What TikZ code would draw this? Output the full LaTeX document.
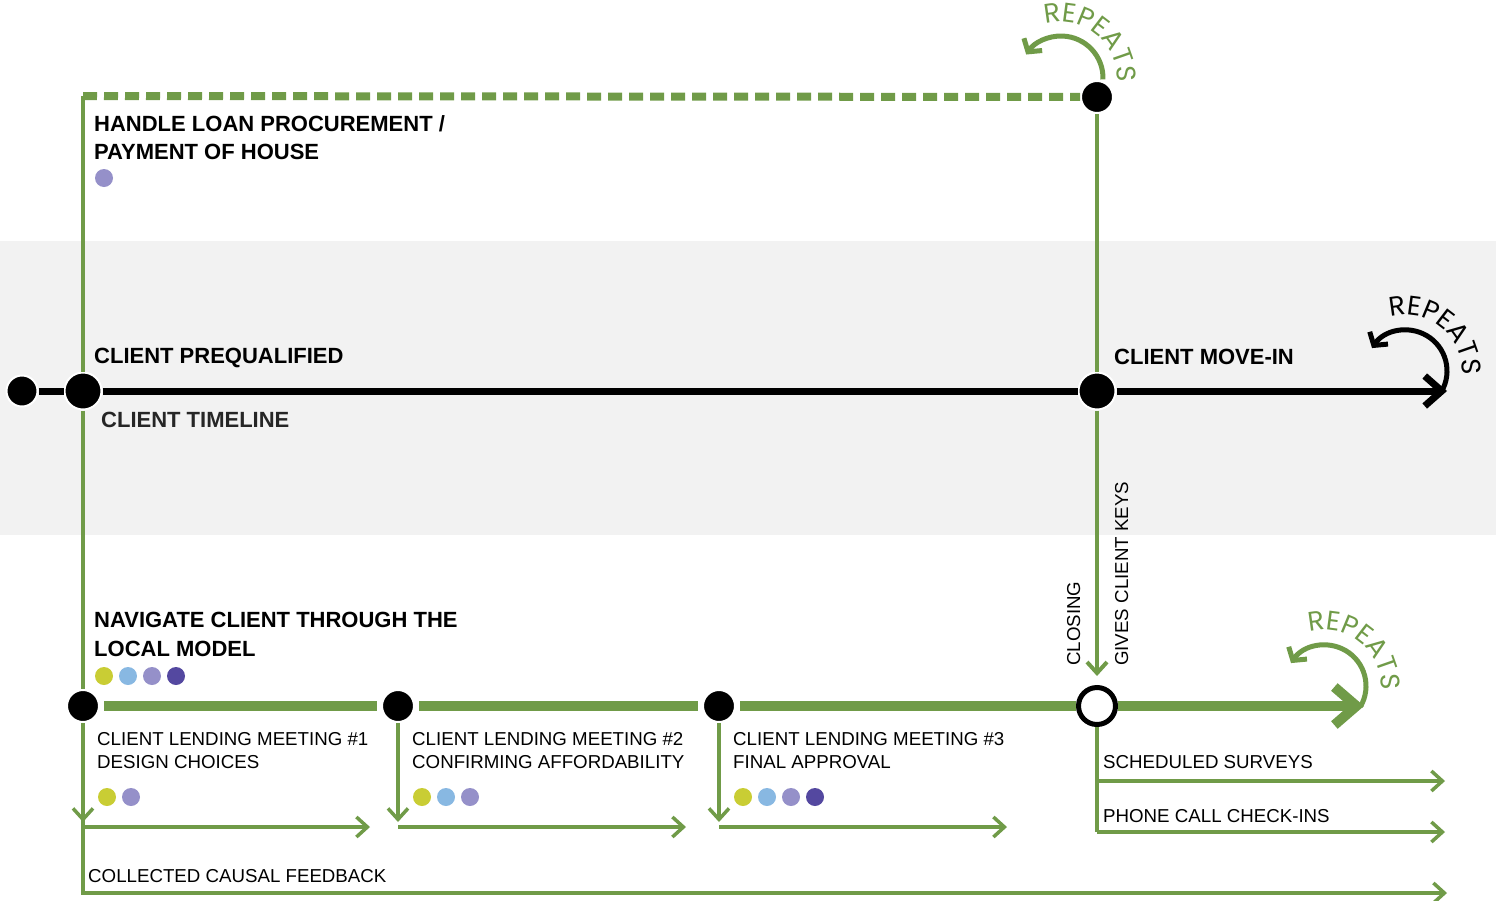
\documentclass[tikz,border=0pt]{standalone}
\usepackage{fontspec}
\setmainfont{Liberation Sans}
\newfontfamily\repfont{Poppins}
\usetikzlibrary{arrows.meta,decorations.text}
\definecolor{grn}{RGB}{112,155,72}
\definecolor{band}{RGB}{242,242,242}
\definecolor{cy}{RGB}{201,205,52}
\definecolor{cb}{RGB}{136,184,226}
\definecolor{cl}{RGB}{149,144,201}
\definecolor{cp}{RGB}{84,72,160}
\newcommand\repeatsarc[5]{% center, radius, start angle, end angle, colour
  \draw[#5, line width=5pt, -{Straight Barb[length=9pt,width=22pt]}] (#1) ++(#3:#2) arc[start angle=#3, end angle=#4, radius=#2];
  \path[decorate, decoration={text along path, text={|\repfont\fontsize{27}{27}\selectfont|REPEATS}, text align=center, text color=#5}] (#1) ++(114:56pt) arc[start angle=114, end angle=-12, radius=56pt];
}
\tikzset{
  bl/.style={font=\fontsize{22}{26}\selectfont\bfseries, inner sep=0pt, anchor=base west},
  rg/.style={font=\fontsize{18.7}{22}\selectfont, inner sep=0pt, anchor=base west},
  bdot/.style={circle, fill=black, draw=white, line width=2pt, inner sep=0pt, minimum size=#1},
  cdot/.style={circle, inner sep=0pt, minimum size=18pt},
  gthin/.style={grn, line width=3.5pt},
  barb/.style={-{Straight Barb[length=11pt,width=20pt]}},
}
\begin{document}
\begin{tikzpicture}[x=1pt,y=1pt]
\useasboundingbox (0,0) rectangle (1496,-900);
\fill[band] (0,-241) rectangle (1496,-535);

% coordinates
\coordinate (tl) at (83,-96);
\coordinate (fb) at (1447,-893);
\coordinate (tend) at (1447,-391);
\coordinate (bend) at (1364,-706);
\coordinate (m1d) at (83,-822);
\coordinate (m1a) at (83,-827);
\coordinate (m1b) at (370,-827);
\coordinate (m2d) at (398,-822);
\coordinate (m2a) at (398,-827);
\coordinate (m2b) at (686,-827);
\coordinate (m3d) at (719,-822);
\coordinate (m3a) at (719,-827);
\coordinate (m3b) at (1007,-827);
\coordinate (ocb) at (1097,-832);
\coordinate (ss) at (1097,-781);
\coordinate (sse) at (1445,-781);
\coordinate (pce) at (1445,-832);
\coordinate (rc1) at (1061,-78);
\coordinate (rc2) at (1406,-371);
\coordinate (rc3) at (1325,-686);

% dots
\node[bdot=31pt] (t0) at (22,-391) {};
\node[bdot=37pt] (tq) at (83,-391) {};
\node[bdot=37pt] (tm) at (1097,-391) {};
\node[bdot=32pt] (ht) at (1097,-97) {};
\node[bdot=32pt] (m1) at (83,-706) {};
\node[bdot=32pt] (m2) at (398,-706) {};
\node[bdot=32pt] (m3) at (719,-706) {};
\node[circle, fill=white, draw=black, line width=5pt, inner sep=0pt, minimum size=37pt] (oc) at (1097,-706) {};

% top dashed line and verticals
\draw[grn, line width=8pt, dash pattern=on 14pt off 7pt] (tl) -- (ht);
\draw[gthin] (tl) -- (tq);
\draw[gthin] (tq) -- (m1);
\draw[gthin, barb] (m1) |- (fb);
\draw[gthin, line width=4pt] (ht) -- (tm);
\draw[gthin, line width=4pt, barb, shorten >=9pt] (tm) -- (oc);

% timeline
\draw[line width=7pt] (t0) -- (tq);
\draw[line width=7pt] (tq) -- (tm);
\draw[line width=7pt, -{Straight Barb[length=17pt,width=30pt]}] (tm) -- (tend);

% green process bar
\draw[grn, line width=10pt, shorten <=4pt, shorten >=4pt] (m1) -- (m2);
\draw[grn, line width=10pt, shorten <=4pt, shorten >=4pt] (m2) -- (m3);
\draw[grn, line width=10pt, shorten <=4pt] (m3) -- (oc);
\draw[grn, line width=10pt, -{Straight Barb[length=22pt,width=38pt]}] (oc) -- (bend);

% meeting arrows
\draw[gthin, barb] (m1) -- (m1d);
\draw[gthin, barb] (m1a) -- (m1b);
\draw[gthin, barb] (m2) -- (m2d);
\draw[gthin, barb] (m2a) -- (m2b);
\draw[gthin, barb] (m3) -- (m3d);
\draw[gthin, barb] (m3a) -- (m3b);

% after closing
\draw[gthin] (oc) -- (ocb);
\draw[gthin, barb] (ss) -- (sse);
\draw[gthin, barb] (ocb) -- (pce);

% repeats
\repeatsarc{rc1}{42pt}{-2}{146}{grn}
\repeatsarc{rc2}{41pt}{-30}{146}{black}
\repeatsarc{rc3}{41pt}{-30}{146}{grn}

% texts
\node[bl] (hl1) at (94,-131) {HANDLE LOAN PROCUREMENT /};
\node[bl] (hl2) at (94,-159) {PAYMENT OF HOUSE};
\node[cdot, fill=cl] (hd) at (104,-178) {};
\node[bl] (cpq) at (94,-363) {CLIENT PREQUALIFIED};
\node[bl, text=black!85] (ctl) at (101,-427) {CLIENT TIMELINE};
\node[bl] (cmi) at (1114,-364) {CLIENT MOVE-IN};
\node[bl] (nv1) at (94,-627) {NAVIGATE CLIENT THROUGH THE};
\node[bl] (nv2) at (94,-656) {LOCAL MODEL};
\foreach \c [count=\i] in {cy,cb,cl,cp}
  \node[cdot, fill=\c] (nd\i) at ({104+24*(\i-1)},-676) {};

\node[rg] (l1a) at (97,-745) {CLIENT LENDING MEETING \#1};
\node[rg] (l1b) at (97,-768) {DESIGN CHOICES};
\foreach \c [count=\i] in {cy,cl}
  \node[cdot, fill=\c] (d1\i) at ({107+24*(\i-1)},-797) {};
\node[rg] (l2a) at (412,-745) {CLIENT LENDING MEETING \#2};
\node[rg] (l2b) at (412,-768) {CONFIRMING AFFORDABILITY};
\foreach \c [count=\i] in {cy,cb,cl}
  \node[cdot, fill=\c] (d2\i) at ({422+24*(\i-1)},-797) {};
\node[rg] (l3a) at (733,-745) {CLIENT LENDING MEETING \#3};
\node[rg] (l3b) at (733,-768) {FINAL APPROVAL};
\foreach \c [count=\i] in {cy,cb,cl,cp}
  \node[cdot, fill=\c] (d3\i) at ({743+24*(\i-1)},-797) {};

\node[rg, rotate=90] (clo) at (1080,-666) {CLOSING};
\node[rg, rotate=90] (gck) at (1128,-666) {GIVES CLIENT KEYS};
\node[rg] (ssv) at (1103,-768) {SCHEDULED SURVEYS};
\node[rg] (pci) at (1103,-822) {PHONE CALL CHECK-INS};
\node[rg] (ccf) at (88,-882) {COLLECTED CAUSAL FEEDBACK};
\end{tikzpicture}
\end{document}
